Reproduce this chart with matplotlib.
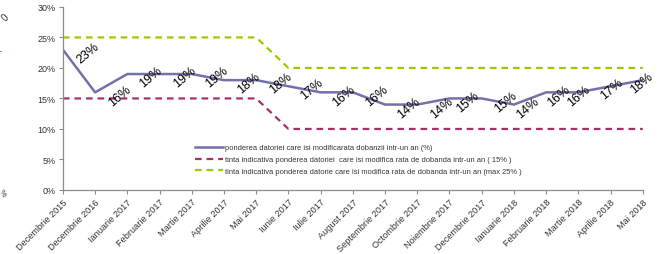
import matplotlib
matplotlib.use("Agg")
from matplotlib import pyplot as plt

plt.rcParams["font.family"] = ["Liberation Sans", "DejaVu Sans"]

months = ["Decembrie 2015", "Decembrie 2016", "Ianuarie 2017", "Februarie 2017",
          "Martie 2017", "Aprilie 2017", "Mai 2017", "Iunie 2017", "Iulie 2017",
          "August 2017", "Septembrie 2017", "Octombrie 2017", "Noiembrie 2017",
          "Decembrie 2017", "Ianuarie 2018", "Februarie 2018", "Martie 2018",
          "Aprilie 2018", "Mai 2018"]
pondere = [23, 16, 19, 19, 19, 18, 18, 17, 16, 16, 14, 14, 15, 15, 14, 16, 16, 17, 18]
tinta_min = [15, 15, 15, 15, 15, 15, 15, 10, 10, 10, 10, 10, 10, 10, 10, 10, 10, 10, 10]
tinta_max = [25, 25, 25, 25, 25, 25, 25, 20, 20, 20, 20, 20, 20, 20, 20, 20, 20, 20, 20]

labels = ["ponderea datoriei care isi modificarata dobanzii intr-un an (%)",
          "tinta indicativa ponderea datoriei  care isi modifica rata de dobanda intr-un an ( 15% )",
          "tinta indicativa ponderea datorie care isi modifica rata de dobanda intr-un an (max 25% )"]

# label x offsets in points (Excel pushed the last ones back inside)
lbl_dx = [18, 18, 17, 18, 18, 18, 18, 17, 17, 17, 17, 18, 13, 17, 10, 9, 0, 1, -1]

c_line = "#7470AA"
c_red = "#A83068"
c_green = "#99CC00"
gray = "#8C8C8C"

fig = plt.figure(figsize=(6.62, 2.55), dpi=100)
ax = fig.add_axes([0.095, 0.251, 0.876, 0.718])
x = list(range(len(months)))

ax.plot(x, pondere, color=c_line, lw=1.8, label=labels[0])
ax.plot(x, tinta_min, color=c_red, lw=1.6, ls=(0, (3, 2.2)), label=labels[1])
ax.plot(x, tinta_max, color=c_green, lw=1.6, ls=(0, (3, 2.2)), label=labels[2])

for i, v in enumerate(pondere):
    ax.annotate(f"{v}%", (i, v), xytext=(lbl_dx[i], -2), textcoords="offset points",
                ha="center", va="center", rotation=40, fontsize=9, color="black")

ax.set_xlim(0, len(months) - 1)
ax.set_ylim(0, 30)
ax.set_yticks(range(0, 31, 5))
ax.set_yticklabels([f"{t}%" for t in range(0, 31, 5)], fontsize=6.5, color="#333333")
ax.set_xticks(x)
ax.set_xticklabels(months, rotation=45, ha="right", rotation_mode="anchor",
                   fontsize=6.6, color="#333333")
ax.tick_params(axis="both", length=3, color=gray, width=0.8, pad=2)
for s in ["top", "right"]:
    ax.spines[s].set_visible(False)
for s in ["left", "bottom"]:
    ax.spines[s].set_color(gray)
    ax.spines[s].set_linewidth(0.9)

leg = ax.legend(loc="upper left", bbox_to_anchor=(0.228, 0.25), frameon=False,
                fontsize=5.4, handlelength=3.7, handletextpad=0.3, labelspacing=0.6,
                borderaxespad=0, borderpad=0)
for t in leg.get_texts():
    t.set_color("#333333")

# fragments of the neighbouring chart cut off at the left edge
fig.text(0.008, 0.93, "0", rotation=45, fontsize=7, color="#333333", ha="center", va="center")
fig.text(0.0, 0.80, "-", fontsize=7, color=c_red, ha="center", va="center")
fig.text(0.003, 0.24, "%", rotation=-60, fontsize=6, color="#333333", ha="center", va="center")

fig.savefig("out.png", dpi=100)
